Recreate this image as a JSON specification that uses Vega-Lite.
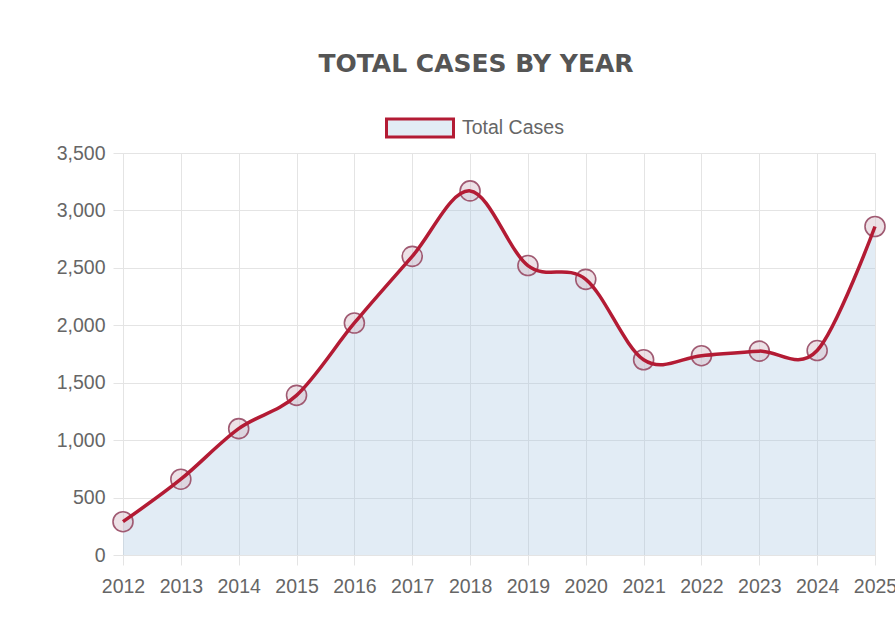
{
  "$schema": "https://vega.github.io/schema/vega-lite/v6.json",
  "autosize": "none",
  "width": 752,
  "height": 402,
  "padding": {"left": 123, "top": 153, "right": 20, "bottom": 65},
  "background": "white",
  "title": {
    "text": "TOTAL CASES BY YEAR",
    "font": "DejaVu Sans",
    "fontSize": 25,
    "fontWeight": "bold",
    "color": "#555555",
    "anchor": "middle",
    "dx": -23,
    "offset": 16
  },
  "data": {
    "values": [
      {"year": "2012", "cases": 290},
      {"year": "2013", "cases": 660},
      {"year": "2014", "cases": 1100},
      {"year": "2015", "cases": 1390},
      {"year": "2016", "cases": 2020},
      {"year": "2017", "cases": 2600},
      {"year": "2018", "cases": 3170},
      {"year": "2019", "cases": 2520},
      {"year": "2020", "cases": 2400},
      {"year": "2021", "cases": 1700},
      {"year": "2022", "cases": 1735},
      {"year": "2023", "cases": 1775},
      {"year": "2024", "cases": 1780},
      {"year": "2025", "cases": 2860}
    ]
  },
  "encoding": {
    "x": {
      "field": "year",
      "type": "ordinal",
      "scale": {"type": "point", "padding": 0},
      "axis": {
        "title": null,
        "labelAngle": 0,
        "labelFont": "Liberation Sans",
        "labelFontSize": 19.5,
        "labelColor": "#666666",
        "grid": true,
        "gridColor": "#e4e4e4",
        "tickColor": "#e4e4e4",
        "tickSize": 10,
        "domainColor": "#e4e4e4",
        "labelPadding": 12
      }
    },
    "y": {
      "field": "cases",
      "type": "quantitative",
      "scale": {"domain": [0, 3500], "nice": false},
      "axis": {
        "title": null,
        "values": [0, 500, 1000, 1500, 2000, 2500, 3000, 3500],
        "format": ",.0f",
        "labelFont": "Liberation Sans",
        "labelFontSize": 19.5,
        "labelColor": "#666666",
        "grid": true,
        "gridColor": "#e4e4e4",
        "tickColor": "#e4e4e4",
        "tickSize": 10,
        "domainColor": "#e4e4e4",
        "labelPadding": 8
      }
    }
  },
  "layer": [
    {
      "mark": {"type": "area", "interpolate": "cardinal", "tension": 0, "fill": "#9fbfdf", "fillOpacity": 0.3},
      "encoding": {}
    },
    {
      "mark": {"type": "point", "shape": "circle", "size": 400, "filled": false, "fill": "#d6bcc8", "fillOpacity": 0.45, "stroke": "#a05a72", "strokeWidth": 1.6, "opacity": 1},
      "encoding": {}
    },
    {
      "mark": {"type": "line", "interpolate": "cardinal", "tension": 0, "strokeWidth": 3.5},
      "encoding": {
        "stroke": {
          "datum": "Total Cases",
          "type": "nominal",
          "scale": {"range": ["#b31b34"]},
          "legend": {
            "title": null,
            "orient": "none",
            "legendX": 262,
            "legendY": -60,
            "padding": 0,
            "symbolType": "M-1,-0.27H1V0.27H-1Z",
            "symbolSize": 4489,
            "symbolFillColor": "#e2ecf5",
            "symbolStrokeWidth": 3,
            "labelFont": "Liberation Sans",
            "labelFontSize": 19.5,
            "labelColor": "#666666",
            "labelOffset": 7
          }
        }
      }
    }
  ]
}
